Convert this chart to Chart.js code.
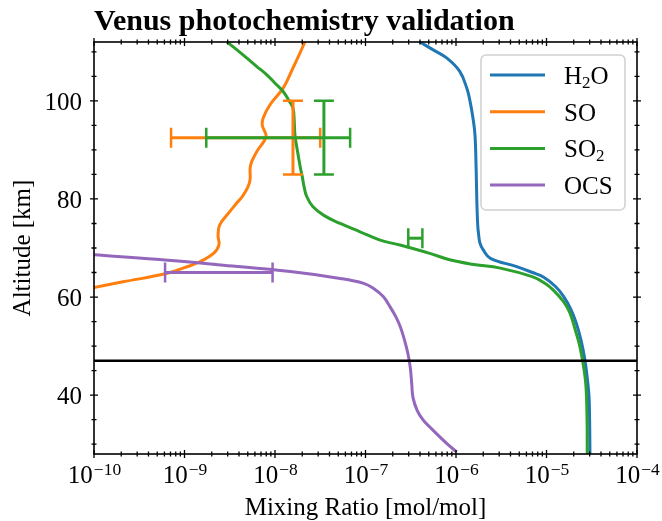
<!DOCTYPE html>
<html>
<head>
<meta charset="utf-8">
<script src="https://cdn.jsdelivr.net/npm/chart.js@4.4.1/dist/chart.umd.min.js"></script>
<style>
  html, body { margin: 0; padding: 0; background: #fff; }
</style>
</head>
<body>
<canvas id="venusChart" width="662" height="521"></canvas>
<script>
// profiles: altitude [km] and mixing ratio [mol/mol]
const h2oAlt = [112, 110.4, 108.7, 106, 102.5, 99.9, 96.5, 93.1, 86, 79.4, 74.5, 72.7, 71.0, 69.6, 67.9, 66.2, 65.0, 64.1, 62.2, 60.1, 57.5, 54.6, 51, 47.1, 43, 39.7, 34, 28]
const h2oMix = [3.98e-7, 5.6e-7, 7.94e-7, 1.10e-6, 1.32e-6, 1.43e-6, 1.54e-6, 1.62e-6, 1.67e-6, 1.70e-6, 1.74e-6, 1.78e-6, 1.84e-6, 2.0e-6, 2.40e-6, 4.68e-6, 7.0e-6, 9.23e-6, 1.25e-5, 1.55e-5, 1.86e-5, 2.14e-5, 2.42e-5, 2.66e-5, 2.84e-5, 2.95e-5, 3.0e-5, 3.02e-5]

const soAlt = [112, 109.5, 106.7, 102.6, 99.2, 96.5, 95.0, 92.7, 89.7, 86.9, 83.5, 80.8, 78.8, 77.4, 74.7, 72.5, 70.6, 68.9, 67.2, 66.0, 64.8, 63.1, 61.8]
const soMix = [2.14e-8, 1.86e-8, 1.58e-8, 1.23e-8, 8.81e-9, 7.41e-9, 7.24e-9, 7.94e-9, 6.31e-9, 5.37e-9, 5.25e-9, 4.47e-9, 3.63e-9, 3.16e-9, 2.45e-9, 2.35e-9, 2.40e-9, 2.09e-9, 1.48e-9, 1.0e-9, 6.31e-10, 2.09e-10, 9.1e-11]

const so2Alt = [112, 110.4, 108.7, 107.0, 105.3, 103.6, 101.9, 100.2, 98.5, 96, 93.1, 89.5, 86.3, 84.6, 82.4, 80.5, 78.4, 76.6, 75.0, 73.3, 71.6, 70.6, 68.9, 67.6, 66.7, 65.9, 64.1, 62.8, 61.4, 59, 56.7, 53, 49.9, 43.1, 36, 28]
const so2Mix = [2.95e-9, 3.8e-9, 4.90e-9, 6.3e-9, 8.13e-9, 1.0e-8, 1.23e-8, 1.41e-8, 1.58e-8, 1.63e-8, 1.66e-8, 1.78e-8, 1.91e-8, 2.0e-8, 2.1e-8, 2.24e-8, 2.63e-8, 3.5e-8, 5.25e-8, 8.7e-8, 1.45e-7, 2.40e-7, 5.13e-7, 8.51e-7, 1.5e-6, 3.09e-6, 7.08e-6, 9.6e-6, 1.19e-5, 1.55e-5, 1.82e-5, 2.1e-5, 2.34e-5, 2.69e-5, 2.8e-5, 2.82e-5]

const ocsAlt = [69.2, 68.6, 67.7, 66.5, 65.2, 63.8, 62.8, 61.8, 60.1, 58.0, 56.0, 53.9, 51.2, 48.5, 45.5, 42.4, 39.5, 36.9, 35.0, 33.5, 30.1, 28.4]
const ocsMix = [3.5e-11, 1.0e-10, 4.9e-10, 2.69e-9, 1.48e-8, 5.25e-8, 9.55e-8, 1.22e-7, 1.57e-7, 1.87e-7, 2.16e-7, 2.43e-7, 2.70e-7, 2.94e-7, 3.13e-7, 3.24e-7, 3.35e-7, 3.72e-7, 4.3e-7, 5.13e-7, 7.94e-7, 1.02e-6]

// cloud deck marker
const cloudAlt = 47

// observations with error bars
const obsSpecies = ['SO', 'SO2', 'SO2', 'OCS']
const obsMix = [1.58e-8, 3.47e-8, 3.5e-7, 2.4e-9]
const obsMixLo = [7.1e-10, 1.74e-9, 2.97e-7, 6.1e-10]
const obsMixHi = [3.16e-8, 6.76e-8, 4.25e-7, 9.4e-9]
const obsAlt = [92.5, 92.5, 72.0, 65.0]
const obsAltLo = [85, 85, null, null]
const obsAltHi = [100, 100, null, null]

const speciesLabels = ['H2O', 'SO', 'SO2', 'OCS']
const speciesColors = ['#1f77b4', '#ff7f0e', '#2ca02c', '#9467bd']

const xTickExps = [-10, -9, -8, -7, -6, -5, -4]
const yTicks = [40, 60, 80, 100]

const SERIF = '"Liberation Serif", "Times New Roman", serif'

const profile = (mix, alt) => mix.map((v, i) => ({x: v, y: alt[i]}))

const lineSet = (label, mix, alt, color, order) => ({
  label: label,
  data: profile(mix, alt),
  borderColor: color,
  backgroundColor: color,
  borderWidth: 3,
  pointRadius: 0,
  showLine: true,
  tension: 0.4,
  clip: 0,
  order: order
})

// text with digits drawn as subscripts (H2O, SO2)
const drawChem = (ctx, text, x, y) => {
  for (const ch of text) {
    if (/[0-9]/.test(ch)) {
      ctx.font = '17px ' + SERIF
      ctx.fillText(ch, x, y + 4)
    } else {
      ctx.font = '25px ' + SERIF
      ctx.fillText(ch, x, y)
    }
    x += ctx.measureText(ch).width
  }
}

const errorBars = {
  id: 'errorBars',
  afterDatasetsDraw(chart) {
    const {ctx, scales: {x, y}} = chart
    const cap = 10
    ctx.save()
    ctx.lineCap = 'butt'
    obsSpecies.forEach((sp, i) => {
      ctx.strokeStyle = speciesColors[speciesLabels.indexOf(sp)]
      const py = y.getPixelForValue(obsAlt[i])
      const x0 = x.getPixelForValue(obsMixLo[i])
      const x1 = x.getPixelForValue(obsMixHi[i])
      ctx.lineWidth = 3
      ctx.beginPath()
      ctx.moveTo(x0, py); ctx.lineTo(x1, py)
      ctx.stroke()
      ctx.lineWidth = 2.5
      ctx.beginPath()
      ctx.moveTo(x0, py - cap); ctx.lineTo(x0, py + cap)
      ctx.moveTo(x1, py - cap); ctx.lineTo(x1, py + cap)
      ctx.stroke()
      if (obsAltLo[i] !== null) {
        const px = x.getPixelForValue(obsMix[i])
        const y0 = y.getPixelForValue(obsAltLo[i])
        const y1 = y.getPixelForValue(obsAltHi[i])
        ctx.lineWidth = 3
        ctx.beginPath()
        ctx.moveTo(px, y0); ctx.lineTo(px, y1)
        ctx.stroke()
        ctx.lineWidth = 2.5
        ctx.beginPath()
        ctx.moveTo(px - cap, y0); ctx.lineTo(px + cap, y0)
        ctx.moveTo(px - cap, y1); ctx.lineTo(px + cap, y1)
        ctx.stroke()
      }
    })
    ctx.restore()
  }
}

const frame = {
  id: 'frame',
  afterDraw(chart) {
    const {ctx, chartArea: a, scales: {x, y}} = chart
    ctx.save()
    ctx.strokeStyle = '#000'
    ctx.fillStyle = '#000'

    // ticks straddle the spines on all four sides
    ctx.lineWidth = 1.3
    const vTick = (px, len) => {
      ctx.beginPath()
      ctx.moveTo(px, a.top - len); ctx.lineTo(px, a.top + len)
      ctx.moveTo(px, a.bottom - len); ctx.lineTo(px, a.bottom + len)
      ctx.stroke()
    }
    const hTick = (py, len) => {
      ctx.beginPath()
      ctx.moveTo(a.left - len, py); ctx.lineTo(a.left + len, py)
      ctx.moveTo(a.right - len, py); ctx.lineTo(a.right + len, py)
      ctx.stroke()
    }
    xTickExps.forEach(e => {
      vTick(x.getPixelForValue(Math.pow(10, e)), 4)
      if (e < -4) {
        for (let m = 2; m <= 9; m++) vTick(x.getPixelForValue(m * Math.pow(10, e)), 2.5)
      }
    })
    for (let v = 30; v <= 110; v += 5) {
      hTick(y.getPixelForValue(v), yTicks.includes(v) ? 4 : 2.5)
    }

    // spines
    ctx.lineWidth = 1.6
    ctx.strokeRect(a.left, a.top, a.right - a.left, a.bottom - a.top)

    // x tick labels as powers of ten
    ctx.textBaseline = 'alphabetic'
    ctx.textAlign = 'left'
    xTickExps.forEach(e => {
      const px = x.getPixelForValue(Math.pow(10, e))
      const base = '10'
      const exp = '\u2212' + Math.abs(e)
      ctx.font = '25px ' + SERIF
      const wb = ctx.measureText(base).width
      ctx.font = '17.5px ' + SERIF
      const we = ctx.measureText(exp).width
      const x0 = px - (wb + we) / 2
      ctx.font = '25px ' + SERIF
      ctx.fillText(base, x0, a.bottom + 29)
      ctx.font = '17.5px ' + SERIF
      ctx.fillText(exp, x0 + wb + 1, a.bottom + 20.5)
    })

    // y tick labels
    ctx.font = '25px ' + SERIF
    ctx.textAlign = 'right'
    yTicks.forEach(v => {
      ctx.fillText(String(v), a.left - 12, y.getPixelForValue(v) + 9)
    })

    // axis titles
    ctx.textAlign = 'center'
    ctx.fillText('Mixing Ratio [mol/mol]', (a.left + a.right) / 2, a.bottom + 61)
    ctx.save()
    ctx.translate(30, (a.top + a.bottom) / 2)
    ctx.rotate(-Math.PI / 2)
    ctx.fillText('Altitude [km]', 0, 0)
    ctx.restore()

    // title
    ctx.textAlign = 'left'
    ctx.font = 'bold 30px ' + SERIF
    ctx.fillText('Venus photochemistry validation', a.left, 30)

    // legend
    const lx = 481, ly = 55, lw = 144, lh = 155
    ctx.beginPath()
    ctx.roundRect(lx, ly, lw, lh, 5)
    ctx.fillStyle = 'rgba(255,255,255,0.8)'
    ctx.fill()
    ctx.strokeStyle = '#d0d0d0'
    ctx.lineWidth = 1.5
    ctx.stroke()
    speciesLabels.forEach((lab, i) => {
      const ry = 75 + i * 36.7
      ctx.strokeStyle = speciesColors[i]
      ctx.lineWidth = 3
      ctx.beginPath()
      ctx.moveTo(490, ry); ctx.lineTo(545, ry)
      ctx.stroke()
      ctx.fillStyle = '#000'
      drawChem(ctx, lab, 564, ry + 9)
    })
    ctx.restore()
  }
}

const makeChart = () => {
  const ctx = document.getElementById('venusChart').getContext('2d')
  return new Chart(ctx, {
    type: 'scatter',
    data: {
      datasets: [
        lineSet(speciesLabels[0], h2oMix, h2oAlt, speciesColors[0], 5),
        lineSet(speciesLabels[1], soMix, soAlt, speciesColors[1], 4),
        lineSet(speciesLabels[2], so2Mix, so2Alt, speciesColors[2], 3),
        lineSet(speciesLabels[3], ocsMix, ocsAlt, speciesColors[3], 2),
        {
          label: 'cloud',
          data: [{x: 1e-10, y: cloudAlt}, {x: 1e-4, y: cloudAlt}],
          borderColor: '#000',
          borderWidth: 2.5,
          pointRadius: 0,
          showLine: true,
          clip: 0,
          order: 1
        }
      ]
    },
    options: {
      responsive: false,
      animation: false,
      devicePixelRatio: 1,
      layout: {
        padding: {left: 94, right: 25, top: 42, bottom: 67}
      },
      scales: {
        x: {type: 'logarithmic', min: 1e-10, max: 1e-4, display: false},
        y: {type: 'linear', min: 28, max: 112, display: false}
      },
      plugins: {
        legend: {display: false},
        tooltip: {enabled: false}
      }
    },
    plugins: [errorBars, frame]
  })
}

makeChart()
</script>
</body>
</html>
